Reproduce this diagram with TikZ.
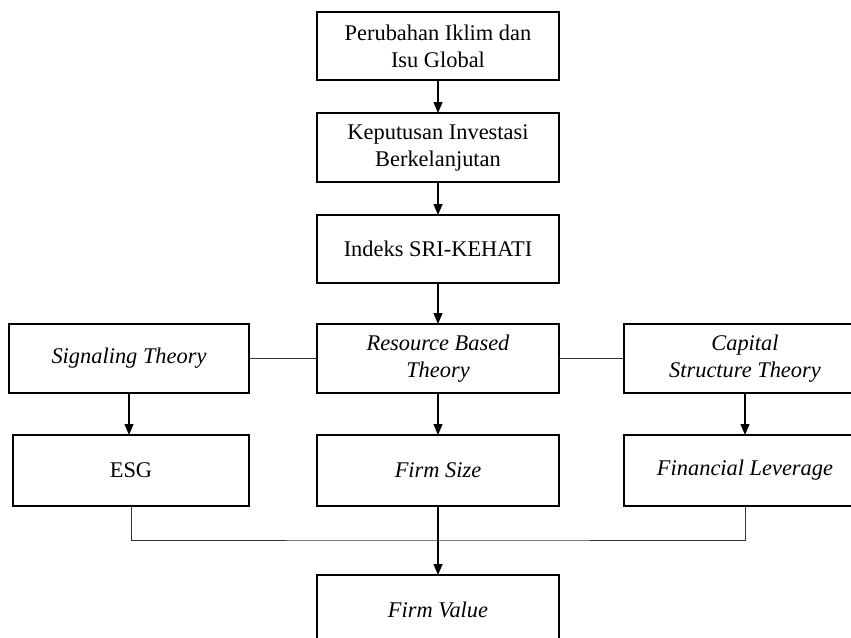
\documentclass[tikz,border=0pt]{standalone}
\usepackage{fontspec}
\setmainfont{Liberation Serif}
\usetikzlibrary{arrows.meta,positioning}
\tikzstyle{kotak}=[draw,line width=0.6pt,outer sep=0pt,minimum width=121pt,minimum height=34pt,
                inner sep=2pt,align=center,font=\fontsize{11.2}{13.5}\selectfont]
\tikzstyle{kotakmiring}=[kotak,font=\fontsize{11.2}{13.5}\selectfont\itshape]
\tikzstyle{panah}=[-{Triangle[width=4.5pt,length=5.5pt]},line width=0.6pt]
\tikzstyle{garis}=[line width=0.5pt,draw=black!80]
\begin{document}
\begin{tikzpicture}[x=0.5pt,y=-0.5pt,node distance=16.5pt]
  \useasboundingbox (0,0) rectangle (851,637);
  \clip (0,0) rectangle (851,637);

  % kolom tengah
  \node[kotak] (iklim) at (438,46) {Perubahan Iklim dan\\Isu Global};
  \node[kotak,below=of iklim,minimum height=34.5pt] (investasi) {Keputusan Investasi\\Berkelanjutan};
  \node[kotak,below=of investasi] (indeks) {Indeks SRI-KEHATI};
  \node[kotakmiring,below=20.5pt of indeks,minimum height=34.5pt] (rbt) {Resource Based\\Theory};
  \node[kotakmiring,below=21pt of rbt,minimum height=35.5pt] (size) {Firm Size};
  \node[kotakmiring,below=34.5pt of size,minimum height=35pt] (nilai) {Firm Value};

  % kiri dan kanan
  \node[kotakmiring,left=34pt of rbt,minimum width=120pt,minimum height=34.5pt] (signal) {Signaling Theory};
  \node[kotakmiring,right=32.5pt of rbt,minimum height=34.5pt] (capital) {Capital\\Structure Theory};
  \node[kotak,below=21pt of signal,xshift=1pt,minimum width=118pt,minimum height=35.5pt] (esg) {ESG};
  \node[kotakmiring,below=21pt of capital,minimum height=35.5pt] (leverage) {Financial Leverage};
  \coordinate (gabung) at (438,540);

  \draw[panah] (iklim) -- (investasi);
  \draw[panah] (investasi) -- (indeks);
  \draw[panah] (indeks) -- (rbt);
  \draw[panah] (rbt) -- (size);
  \draw[panah] (signal) -- (signal |- esg.north);
  \draw[panah] (capital) -- (leverage);
  \draw[garis] (signal) -- (rbt);
  \draw[garis] (rbt) -- (capital);
  \draw[garis] (esg.south) |- (gabung) -| (leverage.south);
  \draw[panah] (size) -- (nilai);
\end{tikzpicture}
\end{document}
